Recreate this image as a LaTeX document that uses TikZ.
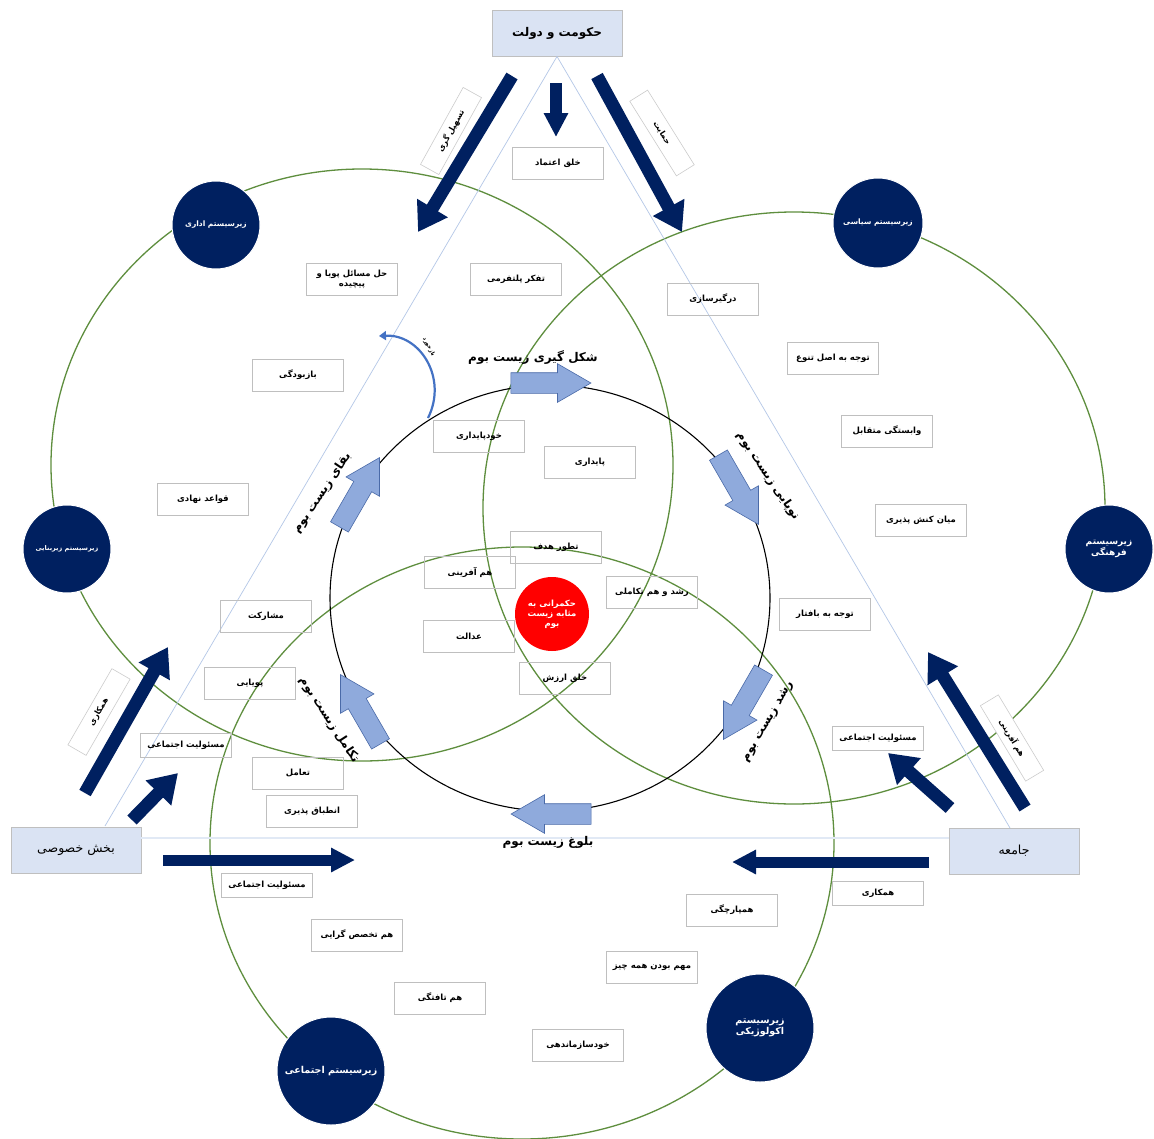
\documentclass[tikz,border=0pt]{standalone}
\usepackage{fontspec}
\newfontfamily\arabicfont[Script=Arabic]{DejaVu Sans}
\TeXXeTstate=1
\usetikzlibrary{shapes.arrows,arrows.meta}

\definecolor{navy}{HTML}{002060}
\definecolor{ringgreen}{HTML}{5E8E3E}
\definecolor{paleblue}{HTML}{DAE3F3}
\definecolor{lineblue}{HTML}{B4C7E7}
\definecolor{stageblue}{HTML}{8FAADC}
\definecolor{stageedge}{HTML}{4A6AA8}
\definecolor{boxgray}{HTML}{BFBFBF}
\definecolor{fbblue}{HTML}{4472C4}
\definecolor{hubred}{HTML}{FF0000}

\newcommand{\fatext}[1]{\beginR #1\endR}

\tikzset{
  item/.style={draw=boxgray, line width=0.9pt, minimum width=91pt, minimum height=32pt,
    inner sep=1pt, align=center, font=\arabicfont\bfseries\fontsize{8.5}{10}\selectfont},
  thinitem/.style={item, minimum height=24pt},
  actor/.style={draw=boxgray, fill=paleblue, line width=0.9pt, minimum width=130pt,
    minimum height=46pt, font=\arabicfont\fontsize{12.5}{14}\selectfont},
  subsys/.style={circle, fill=navy, draw=white, line width=1pt, text=white, inner sep=0pt,
    align=center, font=\arabicfont\bfseries\fontsize{7.5}{9}\selectfont},
  stage/.style={single arrow, fill=stageblue, draw=stageedge, line width=0.6pt,
    minimum height=80pt, inner sep=10pt, single arrow head extend=9pt, single arrow tip angle=60},
  stagetxt/.style={inner sep=0pt, font=\arabicfont\bfseries\fontsize{12}{14}\selectfont},
  flow/.style={draw=boxgray!80, fill=white, line width=0.6pt, minimum width=88pt, minimum height=21pt,
    inner sep=1pt, font=\arabicfont\bfseries\fontsize{8}{9}\selectfont},
  bigarrow/.style={navy, line width=13pt, -{Triangle[width=34pt,length=28pt]}},
  midarrow/.style={navy, line width=11pt, -{Triangle[width=23pt,length=24pt]}},
}

\begin{document}
\begin{tikzpicture}[x=1pt, y=-1pt]
  \fill[white] (0,0) rectangle (1154,1138);
  \useasboundingbox (0,0) rectangle (1154,1138);

  % three subsystem rings
  \draw[ringgreen, line width=1.3pt] (362,465) ellipse [x radius=311pt, y radius=296pt];
  \draw[ringgreen, line width=1.3pt] (794,508) ellipse [x radius=311pt, y radius=296pt];
  \draw[ringgreen, line width=1.3pt] (522,843) ellipse [x radius=312pt, y radius=296pt];

  % actors
  \node[actor, font=\arabicfont\bfseries\fontsize{12}{14}\selectfont] (gov) at (557,33) {\fatext{حکومت و دولت}};
  \node[actor] (priv) at (76,850) {\fatext{بخش خصوصی}};
  \node[actor] (soc) at (1014,851) {\fatext{جامعه}};

  \coordinate (baseL) at (105,826);
  \coordinate (baseR) at (1010,828);
  \coordinate (baseY) at (0,838);
  \draw[lineblue, line width=0.7pt] (baseL) -- (gov.south) -- (baseR);
  \draw[paleblue!80, line width=2.5pt] (priv.east |- baseY) -- (soc.west |- baseY);

  % life cycle ring
  \draw[black, line width=1.1pt] (550,598) ellipse [x radius=220pt, y radius=213pt];

  % items
  \node[item] (i1) at (352,279) {\fatext{حل مسائل پویا و}\\\fatext{پیچیده}};
  \node[item] (i2) at (516,279) {\fatext{تفکر پلتفرمی}};
  \node[item] (i3) at (298,375) {\fatext{بازبودگی}};
  \node[item] (i4) at (479,436) {\fatext{خودپایداری}};
  \node[item] (i5) at (590,462) {\fatext{پایداری}};
  \node[item] (i6) at (203,499) {\fatext{قواعد نهادی}};
  \node[item] (i7) at (266,616) {\fatext{مشارکت}};
  \node[item] (i8) at (250,683) {\fatext{پویایی}};
  \node[thinitem] (i9) at (186,745) {\fatext{مسئولیت اجتماعی}};
  \node[item] (i10) at (298,773) {\fatext{تعامل}};
  \node[item] (i11) at (312,811) {\fatext{انطباق پذیری}};
  \node[thinitem] (i12) at (267,885) {\fatext{مسئولیت اجتماعی}};
  \node[item] (i13) at (558,163) {\fatext{خلق اعتماد}};
  \node[item] (i14) at (713,299) {\fatext{درگیرسازی}};
  \node[item] (i15) at (833,358) {\fatext{توجه به اصل تنوع}};
  \node[item] (i16) at (887,431) {\fatext{وابستگی متقابل}};
  \node[item] (i17) at (921,520) {\fatext{میان کنش پذیری}};
  \node[item] (i18) at (825,614) {\fatext{توجه به بافتار}};
  \node[thinitem] (i19) at (878,738) {\fatext{مسئولیت اجتماعی}};
  \node[item] (i20) at (556,547) {\fatext{تطور هدف}};
  \node[item] (i21) at (470,572) {\fatext{هم آفرینی}};
  \node[item] (i22) at (652,592) {\fatext{رشد و هم تکاملی}};
  \node[item] (i23) at (469,636) {\fatext{عدالت}};
  \node[item] (i24) at (565,678) {\fatext{خلق ارزش}};
  \node[thinitem] (i25) at (878,893) {\fatext{همکاری}};
  \node[item] (i26) at (357,935) {\fatext{هم تخصص گرایی}};
  \node[item] (i27) at (440,998) {\fatext{هم تافتگی}};
  \node[item] (i28) at (732,910) {\fatext{همپارچگی}};
  \node[item] (i29) at (652,967) {\fatext{مهم بودن همه چیز}};
  \node[item] (i30) at (578,1045) {\fatext{خودسازماندهی}};

  % stages
  \node[stage] (s1) at (542,383) {};
  \node[stage, rotate=-60] (s2) at (734,482) {};
  \node[stage, rotate=-120] (s3) at (748,697) {};
  \node[stage, rotate=180] (s4) at (560,814) {};
  \node[stage, rotate=120] (s5) at (365,717) {};
  \node[stage, rotate=60] (s6) at (355,500) {};

  \node[stagetxt] (t1) at (533,358) {\fatext{شکل گیری زیست بوم}};
  \node[stagetxt, rotate=-56] (t2) at (768,476) {\fatext{نوپایی زیست بوم}};
  \node[stagetxt, rotate=60] (t3) at (768,722) {\fatext{رشد زیست بوم}};
  \node[stagetxt] (t4) at (548,842) {\fatext{بلوغ زیست بوم}};
  \node[stagetxt, rotate=-57] (t5) at (329,720) {\fatext{تکامل زیست بوم}};
  \node[stagetxt, rotate=56] (t6) at (322,493) {\fatext{بقای زیست بوم}};

  % feedback
  \coordinate (fbA) at (428,418);
  \coordinate (fbB) at (379,336);
  \draw[fbblue, line width=2.2pt, -{Triangle[width=9pt,length=7pt]}] (fbA) .. controls (448,378) and (420,334) .. (fbB);
  \node[inner sep=0pt, rotate=-62, font=\arabicfont\bfseries\fontsize{5.5}{6}\selectfont] (fbl) at (429,347) {\fatext{بازخورد}};

  % subsystems
  \node[subsys, minimum size=88pt] (adm) at (216,225) {\fatext{زیرسیستم اداری}};
  \node[subsys, minimum size=90pt] (pol) at (878,223) {\fatext{زیرسیستم سیاسی}};
  \node[subsys, minimum size=88pt, font=\arabicfont\bfseries\fontsize{6.5}{8}\selectfont] (inf) at (67,549) {\fatext{زیرسیستم زیربنایی}};
  \node[subsys, minimum size=88pt, font=\arabicfont\bfseries\fontsize{9}{11}\selectfont] (cul) at (1109,549) {\fatext{زیرسیستم}\\\fatext{فرهنگی}};
  \node[subsys, minimum size=108pt, font=\arabicfont\bfseries\fontsize{9.5}{11}\selectfont] (eco) at (760,1028) {\fatext{زیرسیستم}\\\fatext{اکولوژیکی}};
  \node[subsys, minimum size=108pt, font=\arabicfont\bfseries\fontsize{9.5}{11}\selectfont] (socs) at (331,1071) {\fatext{زیرسیستم اجتماعی}};

  % actor flows
  \coordinate (g1a) at (512,76);   \coordinate (g1b) at (418,232);
  \coordinate (g2a) at (556,83);   \coordinate (g2b) at (556,137);
  \coordinate (g3a) at (597,76);   \coordinate (g3b) at (682,232);
  \coordinate (p1a) at (85,793);   \coordinate (p1b) at (168,647);
  \coordinate (p2a) at (132,820);  \coordinate (p2b) at (178,773);
  \coordinate (p3a) at (163,860);  \coordinate (p3b) at (355,860);
  \coordinate (c1a) at (1025,808); \coordinate (c1b) at (928,652);
  \coordinate (c2a) at (950,808);  \coordinate (c2b) at (888,753);
  \coordinate (c3a) at (929,862);  \coordinate (c3b) at (732,862);
  \draw[bigarrow] (g1a) -- (g1b);
  \draw[midarrow, line width=12pt] (g2a) -- (g2b);
  \draw[bigarrow] (g3a) -- (g3b);
  \draw[bigarrow] (p1a) -- (p1b);
  \draw[bigarrow] (p2a) -- (p2b);
  \draw[midarrow] (p3a) -- (p3b);
  \draw[bigarrow] (c1a) -- (c1b);
  \draw[bigarrow] (c2a) -- (c2b);
  \draw[midarrow] (c3a) -- (c3b);

  \node[flow, rotate=61] (f1) at (451,131) {\fatext{تسهیل گری}};
  \node[flow, rotate=-58] (f2) at (662,133) {\fatext{حمایت}};
  \node[flow, rotate=60] (f3) at (99,712) {\fatext{همکاری}};
  \node[flow, rotate=-59] (f4) at (1012,738) {\fatext{هم آفرینی}};

  % hub
  \node[circle, fill=hubred, minimum size=74pt, inner sep=0pt, text=white, align=center,
    font=\arabicfont\bfseries\fontsize{8.5}{10}\selectfont] (hub) at (552,614)
    {\fatext{حکمرانی به}\\\fatext{مثابه زیست}\\\fatext{بوم}};
\end{tikzpicture}
\end{document}
